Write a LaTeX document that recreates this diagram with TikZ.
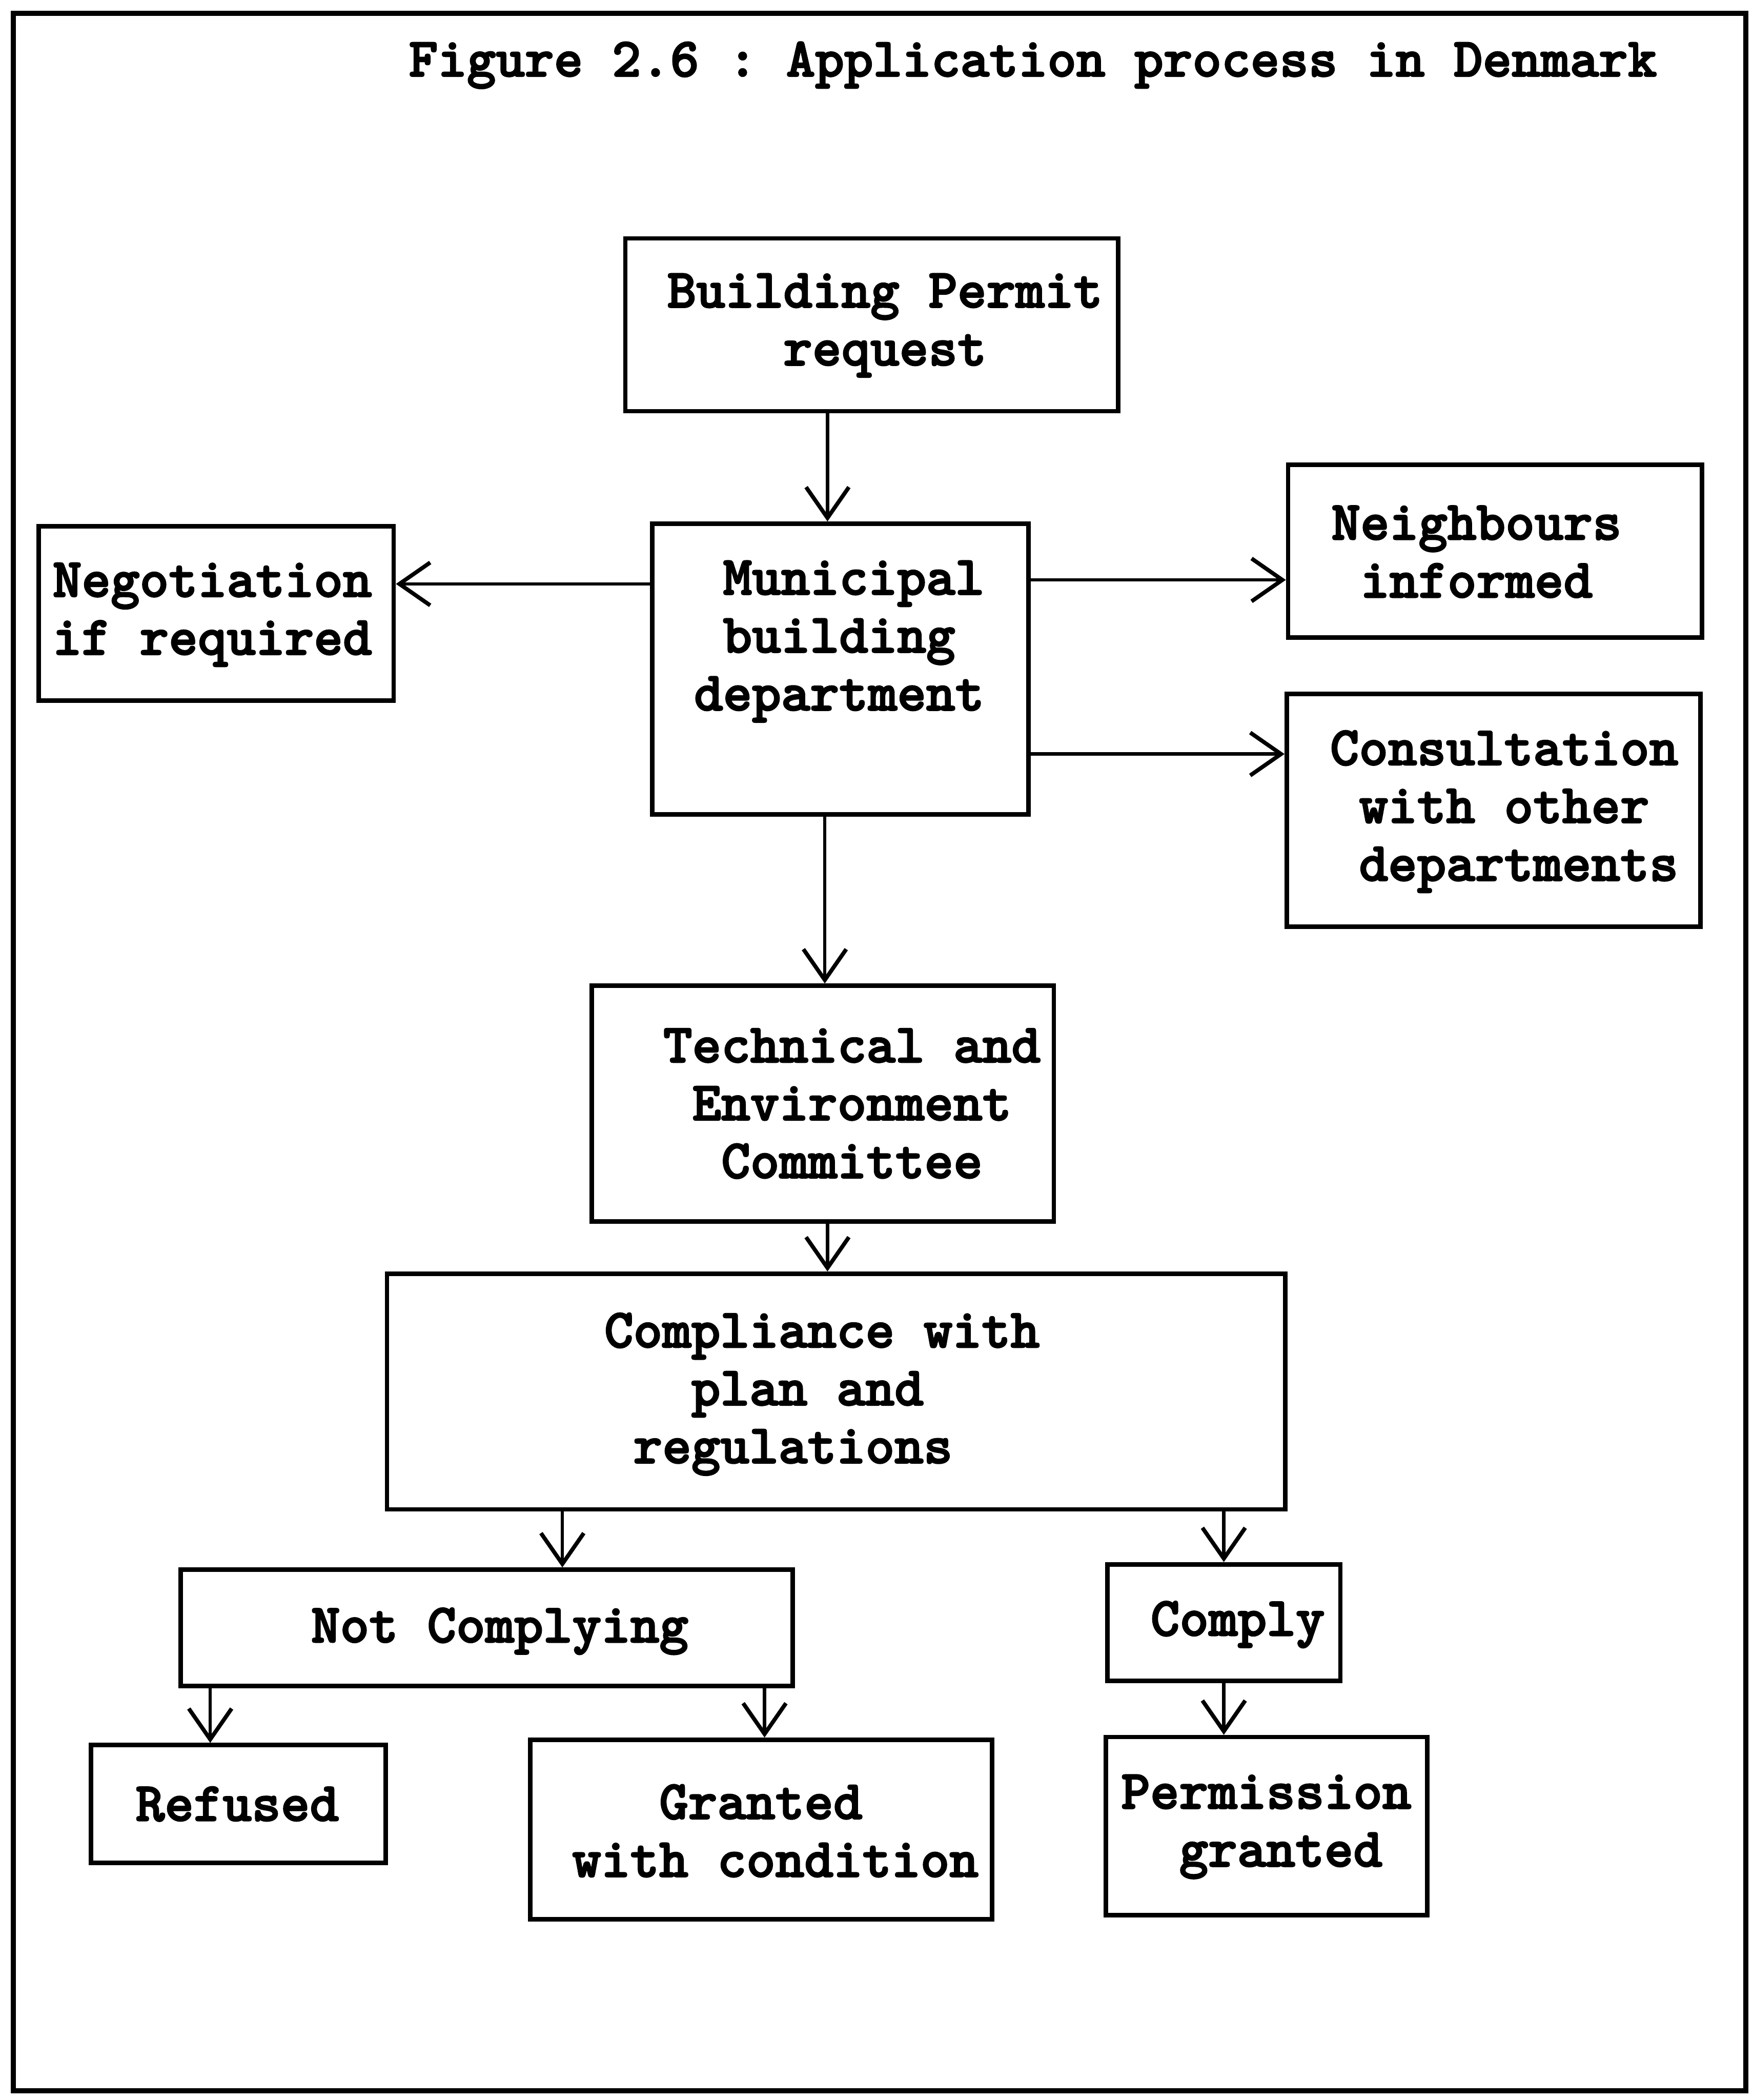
\documentclass[tikz,border=0pt]{standalone}
\usepackage{fontspec}
\usetikzlibrary{arrows.meta,fit}
% heavy typewriter face for all labels
\newfontfamily\typew[FakeBold=2.4]{lmmonolt10-bold.otf}
\frenchspacing
\begin{document}
\begin{tikzpicture}[x=0.02cm,y=-0.02cm,
  box/.style={draw, line width=1.9pt, rectangle, inner sep=0pt},
  lbl/.style={font=\fontsize{23.5}{24.6}\selectfont\typew, align=left, anchor=west, inner sep=0pt},
  flow/.style={line width=1.4pt, -{Straight Barb[length=0.46cm,width=0.64cm,line width=1.7pt]}}
]
\useasboundingbox (0,0) rectangle (1309,1568);

% outer frame and title
\node[box, line width=2.2pt, fit={(10,10) (1304,1561)}] (frame) {};
\node[lbl, anchor=base west] (title) at (305,57) {Figure 2.6 : Application process in Denmark};

% boxes
\node[box, fit={(467,178) (835,307)}]  (bpr) {};
\node[box, fit={(487,391) (768,608)}]  (mun) {};
\node[box, fit={(29,393) (294,523)}]   (neg) {};
\node[box, fit={(962,347) (1271,476)}] (nei) {};
\node[box, fit={(961,518) (1270,692)}] (con) {};
\node[box, fit={(442,736) (787,912)}]  (tec) {};
\node[box, fit={(289,951) (960,1127)}] (cmp) {};
\node[box, fit={(135,1172) (592,1259)}] (nc) {};
\node[box, fit={(827,1168) (1001,1255)}] (cy) {};
\node[box, fit={(68,1303) (288,1391)}]  (ref) {};
\node[box, fit={(396,1299) (741,1433)}] (gwc) {};
\node[box, fit={(826,1297) (1066,1430)}] (pg) {};

% labels (monospaced, indented by whole characters)
\node[lbl] (bprT) at (498,243) {Building Permit\\\phantom{xxxx}request};
\node[lbl] (munT) at (518,479) {\phantom{x}Municipal\\\phantom{x}building\\department};
\node[lbl] (negT) at (39,459)  {Negotiation\\if required};
\node[lbl] (neiT) at (994,412) {Neighbours\\\phantom{x}informed};
\node[lbl] (conT) at (993,606) {Consultation\\\phantom{x}with other\\\phantom{x}departments};
\node[lbl] (tecT) at (495,824) {Technical and\\\phantom{x}Environment\\\phantom{xx}Committee};
\node[lbl] (cmpT) at (451,1041) {Compliance with\\\phantom{xxx}plan and\\\phantom{x}regulations};
\node[lbl] (ncT)  at (232,1218) {Not Complying};
\node[lbl] (cyT)  at (859,1213) {Comply};
\node[lbl] (refT) at (101,1347) {Refused};
\node[lbl] (gwcT) at (427,1367) {\phantom{xxx}Granted\\with condition};
\node[lbl] (pgT)  at (837,1364) {Permission\\\phantom{xx}granted};

% connector positions
\coordinate (c1) at (618,0);
\coordinate (c2) at (0,436);
\coordinate (c3) at (0,433);
\coordinate (c4) at (0,563);
\coordinate (c5) at (616,0);
\coordinate (c6) at (618,0);
\coordinate (c7) at (420,0);
\coordinate (c8) at (914,0);
\coordinate (c9) at (157,0);
\coordinate (c10) at (571,0);

% connectors
\draw[flow] (bpr.south -| c1) -- (mun.north -| c1);
\draw[flow] (mun.west |- c2) -- (neg.east |- c2);
\draw[flow] (mun.east |- c3) -- (nei.west |- c3);
\draw[flow] (mun.east |- c4) -- (con.west |- c4);
\draw[flow] (mun.south -| c5) -- (tec.north -| c5);
\draw[flow] (tec.south -| c6) -- (cmp.north -| c6);
\draw[flow] (cmp.south -| c7) -- (nc.north -| c7);
\draw[flow] (cmp.south -| c8) -- (cy.north -| c8);
\draw[flow] (nc.south -| c9) -- (ref.north -| c9);
\draw[flow] (nc.south -| c10) -- (gwc.north -| c10);
\draw[flow] (cy.south -| c8) -- (pg.north -| c8);
\end{tikzpicture}
\end{document}
